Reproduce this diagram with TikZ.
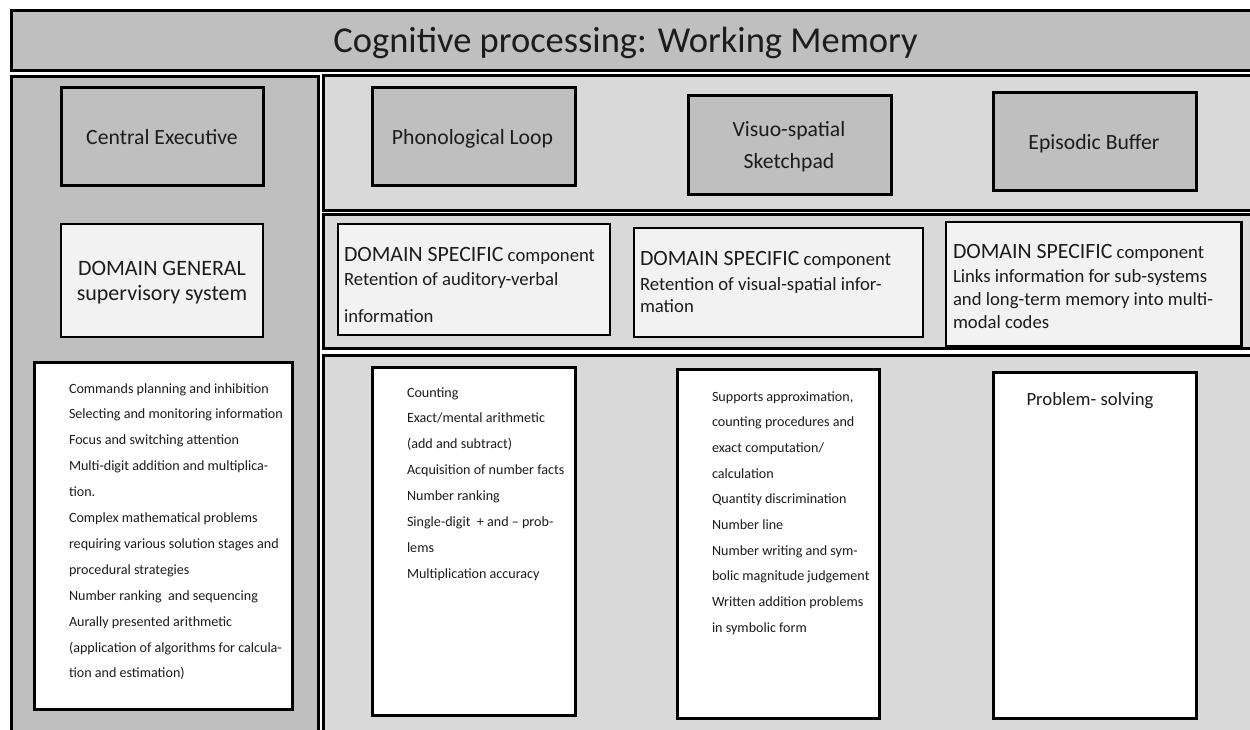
\documentclass[tikz,border=0pt]{standalone}
\usepackage{fontspec}
\setmainfont{Carlito}
\usetikzlibrary{fit}
\definecolor{darkfill}{HTML}{BFBFBF}
\definecolor{panelfill}{HTML}{D9D9D9}
\definecolor{palefill}{HTML}{F2F2F2}
\definecolor{ink}{HTML}{1C1C1C}

\newcommand{\fsz}[1]{\fontsize{#1}{#1}\selectfont}

\begin{document}
\begin{tikzpicture}[x=1pt,y=-1pt,
  frame/.style={draw=black, line width=3pt, inner sep=0pt, outer sep=0pt},
  darkframe/.style={frame, fill=darkfill},
  panelframe/.style={frame, fill=panelfill},
  compbox/.style={frame, fill=darkfill},
  palebox/.style={frame, line width=2.6pt, fill=palefill},
  listbox/.style={frame, fill=white},
  txt/.style={inner sep=0pt, outer sep=0pt, text=ink},
  titletxt/.style={txt, anchor=base, font=\fsz{36.5}},
  comptxt/.style={txt, anchor=base, font=\fsz{21.7}},
  dstxt/.style={txt, anchor=base west, font=\fsz{18.7}},
  listtxt/.style={txt, anchor=base west, font=\fsz{14.1}}
]
\path[use as bounding box, fill=white] (0,0) rectangle (1250,729);
\clip (0,0) rectangle (1250,729);

% header bar
\node[darkframe, fit={(11,10.5) (1290,70.5)}] (bar) {};
\node[titletxt] (title) at (625.5,52.7) {Cognitive processing: Working Memory};

% column panels
\node[darkframe, fit={(11,76) (318,760)}] (left) {};
\node[panelframe, fit={(323.5,75.3) (1290,210.7)}] (rowtop) {};
\node[panelframe, fit={(323.5,214.7) (1290,348.5)}] (rowmid) {};
\node[panelframe, fit={(323.5,355.3) (1290,760)}] (rowbot) {};

% component boxes
\node[compbox, fit={(61,87) (263,185)}] (ce) {};
\node[compbox, fit={(372,87) (575,185)}] (pl) {};
\node[compbox, fit={(688,95) (891,194)}] (vs) {};
\node[compbox, fit={(993,92) (1196,190)}] (eb) {};

\node[comptxt] (cet) at (162,144) {Central Executive};
\node[comptxt] (plt) at (472.5,144.3) {Phonological Loop};
\node[comptxt] (vst1) at (789,136.7) {Visuo-spatial};
\node[comptxt] (vst2) at (789,168.3) {Sketchpad};
\node[comptxt] (ebt) at (1094,149.3) {Episodic Buffer};

% domain boxes
\node[palebox, fit={(61,224) (263,337)}] (dg) {};
\node[comptxt, font=\fsz{22}] (dgt1) at (162,275) {DOMAIN GENERAL};
\node[comptxt, font=\fsz{22}] (dgt2) at (162,300) {supervisory system};

\node[palebox, fit={(338,224) (610,335)}] (ds1) {};
\node[palebox, fit={(634,228) (923,337)}] (ds2) {};
\node[palebox, fit={(946,222) (1241.7,346)}] (ds3) {};

\node[dstxt] (ds1a) at (344,261) {{\fsz{21.8}DOMAIN SPECIFIC} component};
\node[dstxt] (ds1b) at (344,285) {Retention of auditory-verbal};
\node[dstxt] (ds1c) at (344,322.3) {information};

\node[dstxt] (ds2a) at (640,265) {{\fsz{21.8}DOMAIN SPECIFIC} component};
\node[dstxt] (ds2b) at (640,290) {Retention of visual-spatial infor-};
\node[dstxt] (ds2c) at (640,312.3) {mation};

\node[dstxt] (ds3a) at (953,258.3) {{\fsz{21.8}DOMAIN SPECIFIC} component};
\node[dstxt] (ds3b) at (953,282.7) {Links information for sub-systems};
\node[dstxt] (ds3c) at (953,305.7) {and long-term memory into multi-};
\node[dstxt] (ds3d) at (953,328.3) {modal codes};

% task lists
\node[listbox, fit={(34,362) (292,709)}] (la) {};
\node[listbox, fit={(372,367) (575,715)}] (lb) {};
\node[listbox, fit={(677,369) (879,718)}] (lc) {};
\node[listbox, fit={(993,372) (1196,718)}] (ld) {};

\foreach \t [count=\i] in {
  {Commands planning and inhibition},
  {Selecting and monitoring information},
  {Focus and switching attention},
  {Multi-digit addition and multiplica-},
  {tion.},
  {Complex mathematical problems},
  {requiring various solution stages and},
  {procedural strategies},
  {Number ranking\ \ and sequencing},
  {Aurally presented arithmetic},
  {(application of algorithms for calcula-},
  {tion and estimation)}}
  \node[listtxt] (la\i) at (69,{393+(\i-1)*25.9}) {\t};

\foreach \t [count=\i] in {
  {Counting},
  {Exact/mental arithmetic},
  {(add and subtract)},
  {Acquisition of number facts},
  {Number ranking},
  {Single-digit\ \ + and – prob-},
  {lems},
  {Multiplication accuracy}}
  \node[listtxt] (lb\i) at (407,{397+(\i-1)*25.9}) {\t};

\foreach \t [count=\i] in {
  {Supports approximation,},
  {counting procedures and},
  {exact computation/},
  {calculation},
  {Quantity discrimination},
  {Number line},
  {Number writing and sym-},
  {bolic magnitude judgement},
  {Written addition problems},
  {in symbolic form}}
  \node[listtxt] (lc\i) at (712,{401+(\i-1)*25.7}) {\t};

\node[txt, anchor=base, font=\fsz{18.7}] (ldt) at (1090,405.7) {Problem- solving};
\end{tikzpicture}
\end{document}
